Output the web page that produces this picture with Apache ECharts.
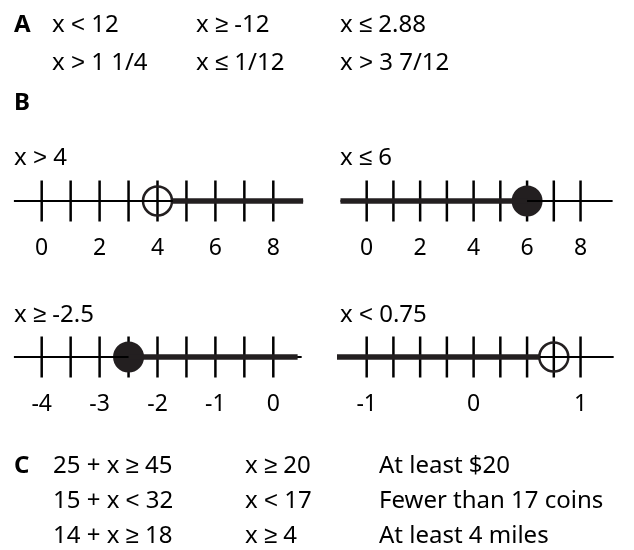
<!DOCTYPE html>
<html>
<head>
<meta charset="utf-8">
<title>Inequalities</title>
<script src="https://cdn.jsdelivr.net/npm/echarts@6/dist/echarts.min.js"></script>
<style>
    html, body { margin: 0; padding: 0; background: #fff; }
    #main { width: 634px; height: 550px; }
</style>
</head>
<body>
<div id="main"></div>
<script>
// part A answers
const partA = [
    ['x < 12', 'x ≥ -12', 'x ≤ 2.88'],
    ['x > 1 1/4', 'x ≤ 1/12', 'x > 3 7/12']
]
// part C answers
const partC = [
    ['25 + x ≥ 45', 'x ≥ 20', 'At least $20'],
    ['15 + x < 32', 'x < 17', 'Fewer than 17 coins'],
    ['14 + x ≥ 18', 'x ≥ 4', 'At least 4 miles']
]

// number lines (B)
const nlTitles = ['x > 4', 'x ≤ 6', 'x ≥ -2.5', 'x < 0.75']
const nlTicks = [
    [0, 1, 2, 3, 4, 5, 6, 7, 8],
    [0, 1, 2, 3, 4, 5, 6, 7, 8],
    [-4, -3.5, -3, -2.5, -2, -1.5, -1, -0.5, 0],
    [-1, -0.75, -0.5, -0.25, 0, 0.25, 0.5, 0.75, 1]
]
const nlLabels = [
    [0, 2, 4, 6, 8],
    [0, 2, 4, 6, 8],
    [-4, -3, -2, -1, 0],
    [-1, 0, 1]
]
const nlLine = [[-0.96, 9.03], [-0.98, 9.2], [-4.48, 0.49], [-1.28, 1.31]]   // thin base line
const nlRay = [[4.53, 9.03], [-0.98, 6], [-2.5, 0.42], [-1.28, 0.62]]       // shaded solution
const nlPoint = [4, 6, -2.5, 0.75]
const nlClosed = [false, true, true, false]

// layout of each number line
const nlBox = [
    { left: 12.75, width: 318.45, top: 181, min: -1, max: 10 },
    { left: 339.95, width: 316.25, top: 181, min: -1, max: 10 },
    { left: 12.75, width: 318.45, top: 337, min: -4.5, max: 1 },
    { left: 339.95, width: 316.25, top: 337, min: -1.25, max: 1.5 }
]
const titlePos = [[14, 158], [340, 158], [14, 315], [340, 315]]

const FONT = '"Noto Sans"'
const INK = '#231f20'

// comparison signs are too small in Noto Sans, draw them with Liberation Sans
function txt(x, y, s, bold) {
    return {
        type: 'text', x: x, y: y, silent: true,
        style: {
            text: s.replace(/[<>≤≥]/g, '{s|$&}'),
            fill: '#000', align: 'left', verticalAlign: 'middle',
            font: (bold ? 'bold ' : '') + '24px ' + FONT,
            rich: {
                s: { fontFamily: 'Liberation Sans', fontSize: 24, fill: '#000' }
            }
        }
    }
}

const graphics = []
graphics.push(txt(14, 25, 'A', true))
const colA = [52, 196, 340]
const rowA = [25, 63]
partA.forEach((row, i) => {
    row.forEach((s, j) => graphics.push(txt(colA[j], rowA[i], s)))
})
graphics.push(txt(14, 103, 'B', true))
nlTitles.forEach((s, i) => graphics.push(txt(titlePos[i][0], titlePos[i][1], s)))
graphics.push(txt(14, 466, 'C', true))
const colC = [53, 245, 379]
const rowC = [466, 501, 536]
partC.forEach((row, i) => {
    row.forEach((s, j) => graphics.push(txt(colC[j], rowC[i], s)))
})

const grid = [], xAxis = [], yAxis = [], series = []
nlBox.forEach((b, i) => {
    grid.push({ left: b.left, width: b.width, top: b.top, height: 40 })
    xAxis.push({
        type: 'value', gridIndex: i, min: b.min, max: b.max,
        axisLine: { show: false }, axisTick: { show: false }, splitLine: { show: false },
        axisLabel: {
            customValues: nlLabels[i], margin: 16,
            fontFamily: 'Noto Sans', fontSize: 23, color: '#000'
        }
    })
    yAxis.push({ type: 'value', gridIndex: i, min: -1, max: 1, show: false })
    const ax = { xAxisIndex: i, yAxisIndex: i, silent: true }
    series.push(Object.assign({
        type: 'line', symbol: 'none',
        data: nlLine[i].map(v => [v, 0]),
        lineStyle: { color: '#000', width: 2 }
    }, ax))
    series.push(Object.assign({
        type: 'scatter', symbol: 'rect', symbolSize: [2.5, 41],
        data: nlTicks[i].map(v => [v, 0]),
        itemStyle: { color: '#000', opacity: 1 }
    }, ax))
    series.push(Object.assign({
        type: 'line', symbol: 'none',
        data: nlRay[i].map(v => [v, 0]),
        lineStyle: { color: INK, width: 5.5 }
    }, ax))
    series.push(Object.assign({
        type: 'scatter', symbol: 'circle', symbolSize: nlClosed[i] ? 31 : 29,
        data: [[nlPoint[i], 0]],
        itemStyle: nlClosed[i]
            ? { color: INK, opacity: 1 }
            : { color: 'rgba(0,0,0,0)', borderColor: INK, borderWidth: 2.5, opacity: 1 }
    }, ax))
})

const myChart = echarts.init(document.getElementById('main'))
myChart.setOption({
    animation: false,
    backgroundColor: '#fff',
    grid: grid,
    xAxis: xAxis,
    yAxis: yAxis,
    series: series,
    graphic: graphics
})
</script>
</body>
</html>
